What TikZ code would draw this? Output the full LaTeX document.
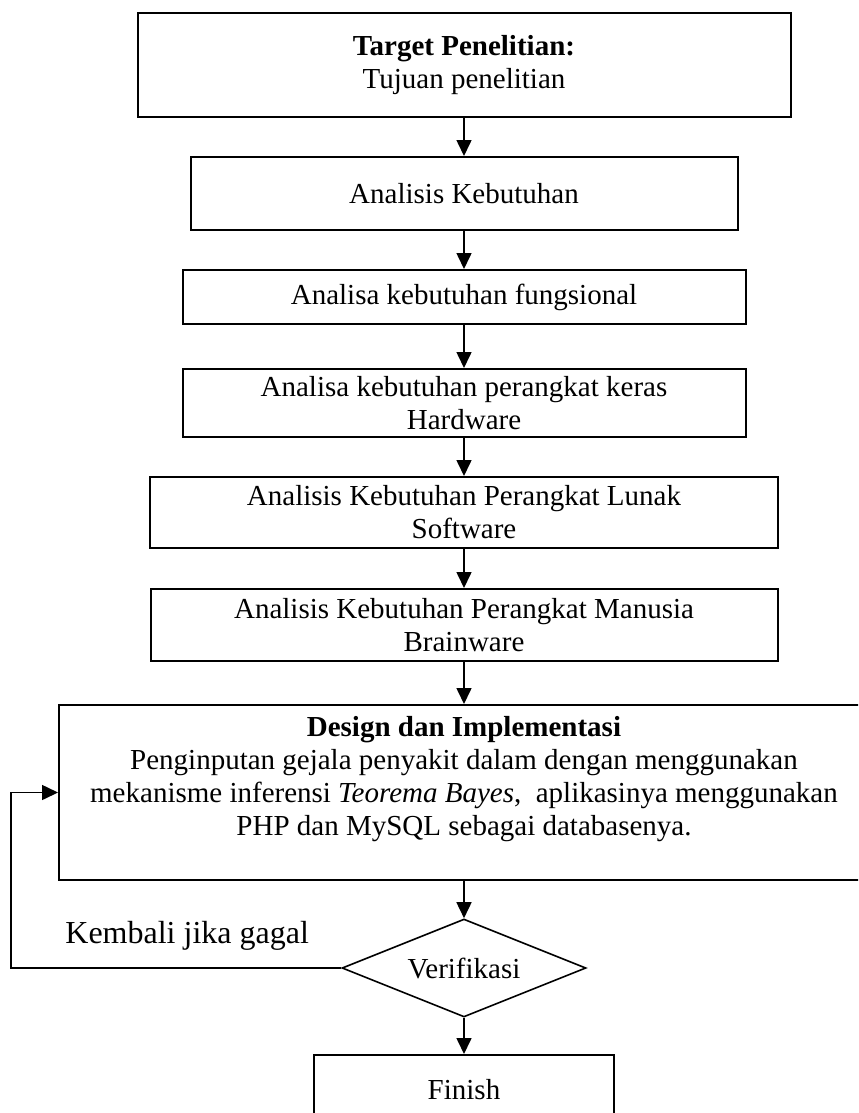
\documentclass[tikz,border=0pt]{standalone}
\usepackage{fontspec}
\setmainfont{Liberation Serif}
\usetikzlibrary{positioning, arrows.meta, shapes.geometric}

\begin{document}
\begin{tikzpicture}
	[x=0.5pt, y=-0.5pt, on grid, >={Triangle[length=8pt,width=7.5pt]},
	 stage/.style={draw, line width=1pt, align=center, inner sep=0pt,
	   font=\fontsize{14.5pt}{16.5pt}\selectfont},
	 check/.style={diamond, aspect=2.5, draw, line width=0.8pt, inner sep=0pt,
	   font=\fontsize{14.5pt}{16.5pt}\selectfont}]
   \useasboundingbox (0,0) rectangle (858,1113);
   \clip (0,0) rectangle (858,1113);
   \node[stage, minimum width=326.5pt, minimum height=52pt] (s_1) at (464,65)
      {\textbf{Target Penelitian:}\\Tujuan penelitian};
   \node[stage, minimum width=273.5pt, minimum height=36.5pt] (s_2) [below=64.25pt of s_1]
      {Analisis Kebutuhan};
   \node[stage, minimum width=281.5pt, minimum height=27pt] (s_3) [below=51.75pt of s_2]
      {Analisa kebutuhan fungsional};
   \node[stage, minimum width=281.5pt, minimum height=34pt] (s_4) [below=53pt of s_3]
      {Analisa kebutuhan perangkat keras\\Hardware};
   \node[stage, minimum width=314pt, minimum height=35.5pt] (s_5) [below=54.75pt of s_4]
      {Analisis Kebutuhan Perangkat Lunak\\Software};
   \node[stage, minimum width=313.5pt, minimum height=36pt] (s_6) [below=56.25pt of s_5]
      {Analisis Kebutuhan Perangkat Manusia\\Brainware};
   \node[stage, minimum width=405pt, minimum height=87.5pt] (s_7) [below=83.75pt of s_6]
      {\textbf{Design dan Implementasi}\\Penginputan gejala penyakit dalam dengan menggunakan\\
       mekanisme inferensi \textit{Teorema Bayes},~ aplikasinya menggunakan\\
       PHP dan MySQL sebagai databasenya.\\~};
   \node[check, minimum width=122pt, minimum height=49pt] (s_8) [below=87.75pt of s_7]
      {Verifikasi};
   \node[stage, minimum width=150pt, minimum height=35pt] (s_9) [below=61pt of s_8]
      {Finish};
   \node[anchor=base west, inner sep=0pt, font=\fontsize{16pt}{19pt}\selectfont]
      (back) at (65,943) {Kembali jika gagal};
    \path[->, line width=0.8pt]
    (s_1) edge (s_2)
    (s_2) edge (s_3)
    (s_3) edge (s_4)
    (s_4) edge (s_5)
    (s_5) edge (s_6)
    (s_6) edge (s_7)
    (s_7) edge (s_8)
    (s_8) edge (s_9);
    \draw[->, line width=0.8pt] (s_8.west) -- ++(-165pt,0) |- (s_7.west);
\end{tikzpicture}
\end{document}
